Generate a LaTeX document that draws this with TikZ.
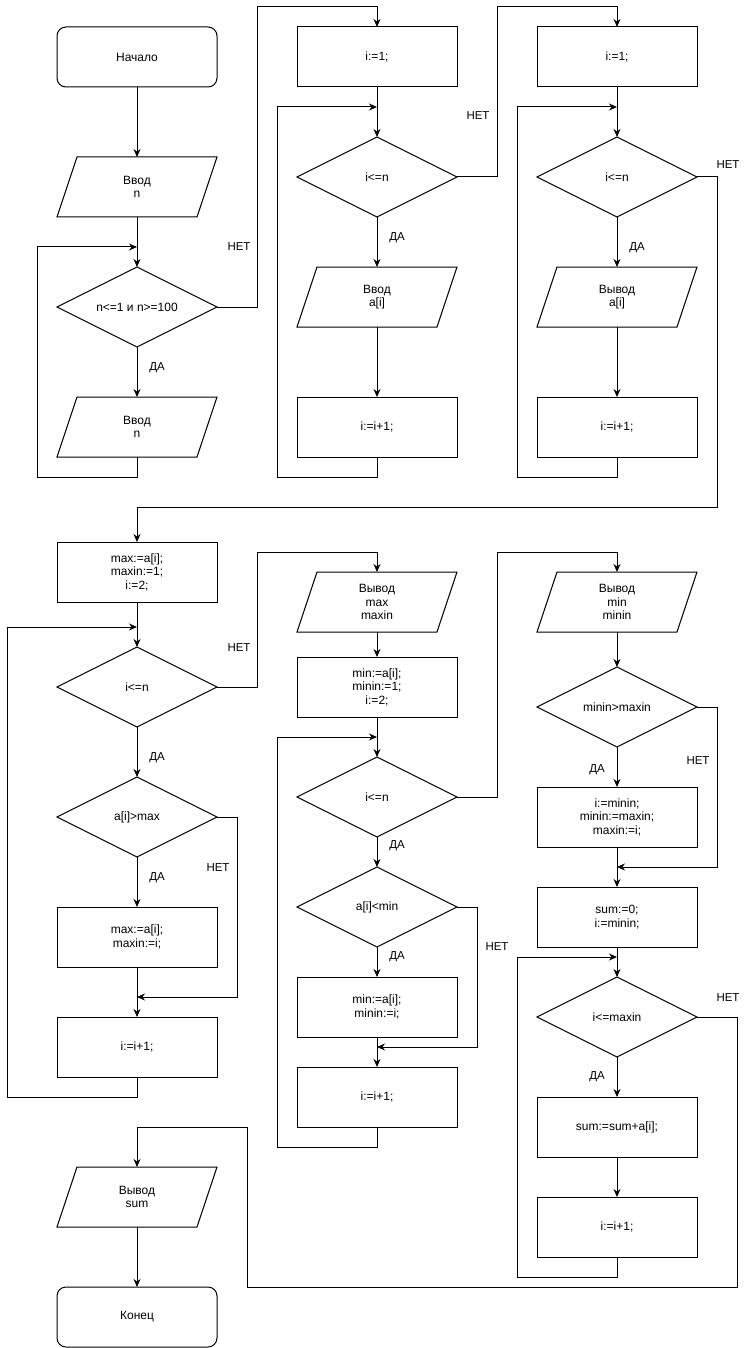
\documentclass[tikz,border=0pt]{standalone}
\usepackage{fontspec}
\setmainfont{Liberation Sans}
\usetikzlibrary{shapes.geometric,arrows.meta,positioning,calc}

\begin{document}
\begin{tikzpicture}[x=1pt, y=-1pt, >={Stealth[length=8pt,width=7pt]}, line width=1pt,
    font=\fontsize{12}{13.5}\selectfont,
    term/.style={rectangle, draw, rounded corners=9pt, minimum width=160pt, minimum height=60pt, outer sep=0pt, align=center},
    proc/.style={rectangle, draw, minimum width=160pt, minimum height=60pt, outer sep=0pt, align=center},
    io/.style={rectangle, minimum width=160pt, minimum height=60pt, outer sep=0pt, align=center,
        append after command={\pgfextra{\draw ($(\tikzlastnode.north west)+(20pt,0pt)$) -- (\tikzlastnode.north east)
            -- ($(\tikzlastnode.south east)+(-20pt,0pt)$) -- (\tikzlastnode.south west) -- cycle;}}},
    cond/.style={diamond, draw, minimum width=160pt, minimum height=80pt, inner sep=0pt, outer sep=0pt, aspect=2, align=center},
    lbl/.style={font=\fontsize{11.5}{13}\selectfont}]

    \useasboundingbox (0,0) rectangle (747,1348);

    % input of n
    \node [term] (start) at (137,57) {Начало};
    \node [io, below=70pt of start] (inN) {Ввод\\n};
    \node [cond, below=50pt of inN] (chkN) {n<=1 и n>=100};
    \node [io, below=50pt of chkN] (inN2) {Ввод\\n};

    % input of the array
    \node [proc] (init1) at (377,57) {i:=1;};
    \node [cond, below=50pt of init1] (cond1) {i<=n};
    \node [io, below=50pt of cond1] (inA) {Ввод\\a[i]};
    \node [proc, below=70pt of inA] (inc1) {i:=i+1;};

    % output of the array
    \node [proc] (init2) at (617,57) {i:=1;};
    \node [cond, below=50pt of init2] (cond2) {i<=n};
    \node [io, below=50pt of cond2] (outA) {Вывод\\a[i]};
    \node [proc, below=70pt of outA] (inc2) {i:=i+1;};

    % maximum
    \node [proc] (initMax) at (137,572) {max:=a[i];\\maxin:=1;\\i:=2;};
    \node [cond, below=45pt of initMax] (cond3) {i<=n};
    \node [cond, below=50pt of cond3] (cmpMax) {a[i]>max};
    \node [proc, below=50pt of cmpMax] (setMax) {max:=a[i];\\maxin:=i;};
    \node [proc, below=50pt of setMax] (inc3) {i:=i+1;};

    % minimum
    \node [io] (outMax) at (377,602) {Вывод\\max\\maxin};
    \node [proc, below=25pt of outMax] (initMin) {min:=a[i];\\minin:=1;\\i:=2;};
    \node [cond, below=40pt of initMin] (cond4) {i<=n};
    \node [cond, below=30pt of cond4] (cmpMin) {a[i]<min};
    \node [proc, below=30pt of cmpMin] (setMin) {min:=a[i];\\minin:=i;};
    \node [proc, below=30pt of setMin] (inc4) {i:=i+1;};

    % sum between min and max
    \node [io] (outMin) at (617,602) {Вывод\\min\\minin};
    \node [cond, below=35pt of outMin] (cmpIdx) {minin>maxin};
    \node [proc, below=40pt of cmpIdx] (swap) {i:=minin;\\minin:=maxin;\\maxin:=i;};
    \node [proc, below=40pt of swap] (initSum) {sum:=0;\\i:=minin;};
    \node [cond, below=30pt of initSum] (cond5) {i<=maxin};
    \node [proc, below=40pt of cond5] (addSum) {sum:=sum+a[i];};
    \node [proc, below=40pt of addSum] (inc5) {i:=i+1;};

    \node [io] (outSum) at (137,1197) {Вывод\\sum};
    \node [term, below=60pt of outSum] (stop) {Конец};

    % joints
    \coordinate (j1) at ([yshift=-30pt]inN.south);
    \coordinate (j2) at ([yshift=-20pt]init1.south);
    \coordinate (j3) at ([yshift=-20pt]init2.south);
    \coordinate (j4) at ([yshift=-25pt]initMax.south);
    \coordinate (j5) at ([yshift=-30pt]setMax.south);
    \coordinate (j6) at ([yshift=-20pt]initMin.south);
    \coordinate (j7) at ([yshift=-10pt]setMin.south);
    \coordinate (j8) at ([yshift=-20pt]swap.south);
    \coordinate (j9) at ([yshift=-10pt]initSum.south);

    % column 1
    \draw [->] (start) -- (inN);
    \draw [->] (inN) -- (chkN);
    \draw [->] (chkN) -- (inN2);
    \draw [->] (inN2.south) -- ++(0,20) -| ([xshift=-100pt]j1) -- (j1);
    \draw [->] (chkN.east) -- ++(40,0) |- ([yshift=20pt]init1.north) -- (init1.north);

    % column 2
    \draw [->] (init1) -- (cond1);
    \draw [->] (cond1) -- (inA);
    \draw [->] (inA) -- (inc1);
    \draw [->] (inc1.south) -- ++(0,20) -| ([xshift=-100pt]j2) -- (j2);
    \draw [->] (cond1.east) -- ++(40,0) |- ([yshift=20pt]init2.north) -- (init2.north);

    % column 3
    \draw [->] (init2) -- (cond2);
    \draw [->] (cond2) -- (outA);
    \draw [->] (outA) -- (inc2);
    \draw [->] (inc2.south) -- ++(0,20) -| ([xshift=-100pt]j3) -- (j3);
    \draw [->] (cond2.east) -- ++(20,0) |- ([yshift=35pt]initMax.north) -- (initMax.north);

    % maximum
    \draw [->] (initMax) -- (cond3);
    \draw [->] (cond3) -- (cmpMax);
    \draw [->] (cmpMax) -- (setMax);
    \draw [->] (setMax) -- (inc3);
    \draw [->] (cmpMax.east) -- ++(20,0) |- (j5);
    \draw [->] (inc3.south) -- ++(0,20) -| ([xshift=-130pt]j4) -- (j4);
    \draw [->] (cond3.east) -- ++(40,0) |- ([yshift=20pt]outMax.north) -- (outMax.north);

    % minimum
    \draw [->] (outMax) -- (initMin);
    \draw [->] (initMin) -- (cond4);
    \draw [->] (cond4) -- (cmpMin);
    \draw [->] (cmpMin) -- (setMin);
    \draw [->] (setMin) -- (inc4);
    \draw [->] (cmpMin.east) -- ++(20,0) |- (j7);
    \draw [->] (inc4.south) -- ++(0,20) -| ([xshift=-100pt]j6) -- (j6);
    \draw [->] (cond4.east) -- ++(40,0) |- ([yshift=20pt]outMin.north) -- (outMin.north);

    % sum
    \draw [->] (outMin) -- (cmpIdx);
    \draw [->] (cmpIdx) -- (swap);
    \draw [->] (swap) -- (initSum);
    \draw [->] (cmpIdx.east) -- ++(20,0) |- (j8);
    \draw [->] (initSum) -- (cond5);
    \draw [->] (cond5) -- (addSum);
    \draw [->] (addSum) -- (inc5);
    \draw [->] (inc5.south) -- ++(0,20) -| ([xshift=-100pt]j9) -- (j9);
    \draw [->] (cond5.east) -- ++(40,0) -- ++(0,270) -- ++(-490,0) -- ++(0,-160) -| (outSum.north);
    \draw [->] (outSum) -- (stop);

    % branch labels
    \node [lbl] (no1) at (239,247) {НЕТ};
    \node [lbl] (yes1) at (157,368) {ДА};
    \node [lbl] (yes2) at (397,238) {ДА};
    \node [lbl] (no2) at (478,116) {НЕТ};
    \node [lbl] (yes3) at (637,248) {ДА};
    \node [lbl] (no3) at (728,165) {НЕТ};
    \node [lbl] (no4) at (239,648) {НЕТ};
    \node [lbl] (yes4) at (157,758) {ДА};
    \node [lbl] (yes5) at (157,878) {ДА};
    \node [lbl] (no5) at (218,868) {НЕТ};
    \node [lbl] (yes6) at (397,846) {ДА};
    \node [lbl] (yes7) at (397,957) {ДА};
    \node [lbl] (no6) at (497,947) {НЕТ};
    \node [lbl] (yes8) at (597,770) {ДА};
    \node [lbl] (no7) at (698,761) {НЕТ};
    \node [lbl] (yes9) at (597,1077) {ДА};
    \node [lbl] (no8) at (728,998) {НЕТ};
\end{tikzpicture}
\end{document}
